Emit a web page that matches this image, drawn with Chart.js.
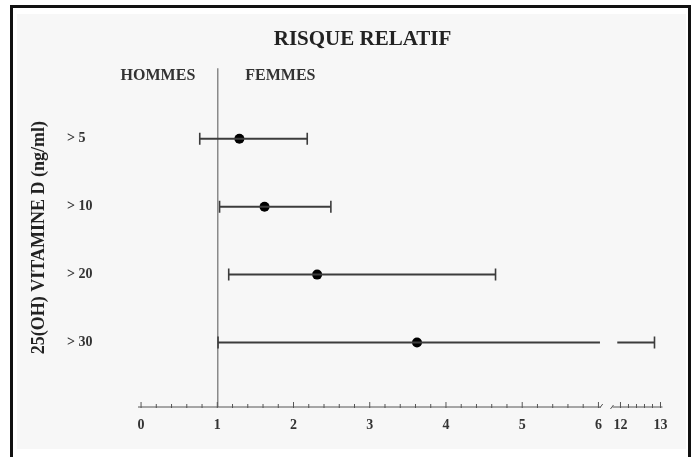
<!DOCTYPE html>
<html>
<head>
<meta charset="utf-8">
<script src="https://cdn.jsdelivr.net/npm/chart.js@4"></script>
<style>
  html, body { margin: 0; padding: 0; background: #ffffff; }
  #wrap { position: relative; width: 696px; height: 457px; overflow: hidden; }
  #frame { position: absolute; left: 10px; top: 5px; width: 675px; height: 470px;
           border-left: 3px solid #111; border-top: 3px solid #111; border-right: 3px solid #111; }
  #inner { position: absolute; left: 17px; top: 14px; width: 669px; height: 435px; background: #f7f7f7; }
  canvas { position: absolute; left: 0; top: 0; }
</style>
</head>
<body>
<div id="wrap">
  <div id="frame"></div>
  <div id="inner"></div>
  <canvas id="c" width="696" height="457"></canvas>
</div>
<script>
// ---- data ----
const chartTitle = 'RISQUE RELATIF';
const yAxisTitle = '25(OH) VITAMINE D (ng/ml)';
const sideLabels = ['HOMMES', 'FEMMES'];
const rowLabels = ['> 5', '> 10', '> 20', '> 30'];
const rrEstimate = [1.29, 1.62, 2.31, 3.62];
const ciLow = [0.77, 1.03, 1.15, 1.01];
const ciHigh = [2.18, 2.49, 4.65, 12.85];
const referenceValue = 1;
const majorTickValues = [0, 1, 2, 3, 4, 5, 6, 12, 13];
const majorTickLabels = ['0', '1', '2', '3', '4', '5', '6', '12', '13'];
const minorStep = 0.2;

// ---- broken axis: 0..6 then 12..13 ----
const breakLow = 6, breakHigh = 12;
const breakOffset = 6.289;   // axis position of 12
const upperScale = 0.525;    // axis units per value unit above the break
function t(v) {
  return v < (breakLow + breakHigh) / 2 ? v : breakOffset + (v - breakHigh) * upperScale;
}

// all tick values (major + minor) on both axis segments
const allTicks = [];
const allTickLabels = [];
function addSegment(a, b) {
  const n = Math.round((b - a) / minorStep);
  for (let i = 0; i <= n; i++) {
    const v = +(a + i * minorStep).toFixed(4);
    const mi = majorTickValues.indexOf(v);
    allTicks.push(v);
    allTickLabels.push(mi >= 0 ? majorTickLabels[mi] : '');
  }
}
addSegment(0, breakLow);
addSegment(breakHigh, 13);

const serif = '"Liberation Serif", "DejaVu Serif", serif';
const lineColor = '#3c3c3c';

// ---- datasets ----
const datasets = [];
rowLabels.forEach((lab, i) => {
  const y = i + 1;
  const lo = ciLow[i], hi = ciHigh[i];
  const capStyle = { pointStyle: 'line', rotation: 90, pointBorderColor: lineColor, pointBorderWidth: 1.6 };
  if (hi > breakLow) {
    datasets.push(Object.assign({
      type: 'scatter', showLine: true, borderColor: lineColor, borderWidth: 2,
      data: [{ x: t(lo), y }, { x: t(breakLow + 0.02), y }],
      pointRadius: [6, 0]
    }, capStyle));
    datasets.push(Object.assign({
      type: 'scatter', showLine: true, borderColor: lineColor, borderWidth: 2,
      data: [{ x: t(breakHigh - 0.08), y }, { x: t(hi), y }],
      pointRadius: [0, 6]
    }, capStyle));
  } else {
    datasets.push(Object.assign({
      type: 'scatter', showLine: true, borderColor: lineColor, borderWidth: 2,
      data: [{ x: t(lo), y }, { x: t(hi), y }],
      pointRadius: [6, 6]
    }, capStyle));
  }
});
datasets.push({
  type: 'scatter',
  data: rrEstimate.map((v, i) => ({ x: t(v), y: i + 1 })),
  pointRadius: 5, pointStyle: 'circle',
  backgroundColor: '#000', borderColor: '#000', borderWidth: 0
});

// ---- plugin: broken x axis line, inward ticks, side labels ----
const axisPlugin = {
  id: 'axisDecor',
  afterDraw(chart) {
    const ctx = chart.ctx;
    const xs = chart.scales.x, ca = chart.chartArea;
    const yb = ca.bottom;
    ctx.save();
    ctx.strokeStyle = '#555';
    ctx.lineWidth = 1;
    ctx.beginPath();
    ctx.moveTo(xs.getPixelForValue(xs.min), yb);
    ctx.lineTo(xs.getPixelForValue(t(breakLow + 0.03)), yb);
    ctx.moveTo(xs.getPixelForValue(t(breakHigh - 0.2)), yb);
    ctx.lineTo(xs.getPixelForValue(t(13.05)), yb);
    ctx.stroke();
    // little break marks
    ctx.beginPath();
    const bx = xs.getPixelForValue(t(breakLow + 0.03));
    ctx.moveTo(bx - 1, yb + 1); ctx.lineTo(bx + 2, yb - 3);
    const bx2 = xs.getPixelForValue(t(breakHigh - 0.2));
    ctx.moveTo(bx2 - 2, yb + 2); ctx.lineTo(bx2 + 1, yb - 2);
    ctx.stroke();
    // inward ticks
    allTicks.forEach((v, i) => {
      const px = xs.getPixelForValue(t(v));
      const len = allTickLabels[i] ? 5 : 3;
      ctx.beginPath();
      ctx.moveTo(px, yb + 1);
      ctx.lineTo(px, yb - len);
      ctx.stroke();
    });
    // side labels
    const x1 = xs.getPixelForValue(referenceValue);
    ctx.fillStyle = '#333';
    ctx.font = 'bold 16px ' + serif;
    ctx.textBaseline = 'middle';
    ctx.textAlign = 'right';
    ctx.fillText(sideLabels[0], x1 - 22, 76);
    ctx.textAlign = 'left';
    ctx.fillText(sideLabels[1], x1 + 28, 76);
    ctx.restore();
  }
};

new Chart(document.getElementById('c'), {
  type: 'scatter',
  data: { datasets },
  plugins: [axisPlugin],
  options: {
    responsive: false,
    animation: false,
    events: [],
    layout: { padding: { left: 29, right: 0, top: 0, bottom: 0 } },
    plugins: {
      legend: { display: false },
      tooltip: { enabled: false },
      title: {
        display: true, text: chartTitle, color: '#222',
        font: { family: serif, size: 21, weight: 'bold', lineHeight: 1.2 },
        padding: { top: 27, bottom: 16 }
      }
    },
    scales: {
      x: {
        type: 'linear', position: 'bottom', min: -0.04, max: 7.18,
        afterBuildTicks: (s) => { s.ticks = allTicks.map(v => ({ value: t(v) })); },
        afterFit: (s) => { s.height = 50; },
        ticks: {
          autoSkip: false, maxRotation: 0, padding: 10, color: '#333',
          font: { family: serif, size: 14, weight: 'bold' },
          callback: (val, i) => allTickLabels[i]
        },
        grid: {
          drawTicks: false,
          color: (c) => (c.tick && Math.abs(c.tick.value - referenceValue) < 1e-6) ? '#8a8a8a' : 'rgba(0,0,0,0)',
          lineWidth: 1.5
        },
        border: { display: false }
      },
      y: {
        type: 'linear', position: 'left', reverse: true, min: -0.04, max: 4.95, weight: 0,
        afterBuildTicks: (s) => { s.ticks = rowLabels.map((_, i) => ({ value: i + 1 })); },
        afterFit: (s) => { s.width = 71; },
        ticks: {
          crossAlign: 'far', color: '#333',
          font: { family: serif, size: 14, weight: 'bold' },
          callback: (val) => rowLabels[val - 1]
        },
        grid: { display: false },
        border: { display: false }
      },
      yTitle: {
        type: 'linear', position: 'left', weight: 1, min: 0, max: 1,
        afterFit: (s) => { s.width = 38; },
        ticks: { display: false },
        grid: { display: false },
        border: { display: false },
        title: {
          display: true, text: yAxisTitle, color: '#222', padding: { top: 0, bottom: 0 },
          font: { family: serif, size: 18, weight: 'bold' }
        }
      }
    }
  }
});
</script>
</body>
</html>
